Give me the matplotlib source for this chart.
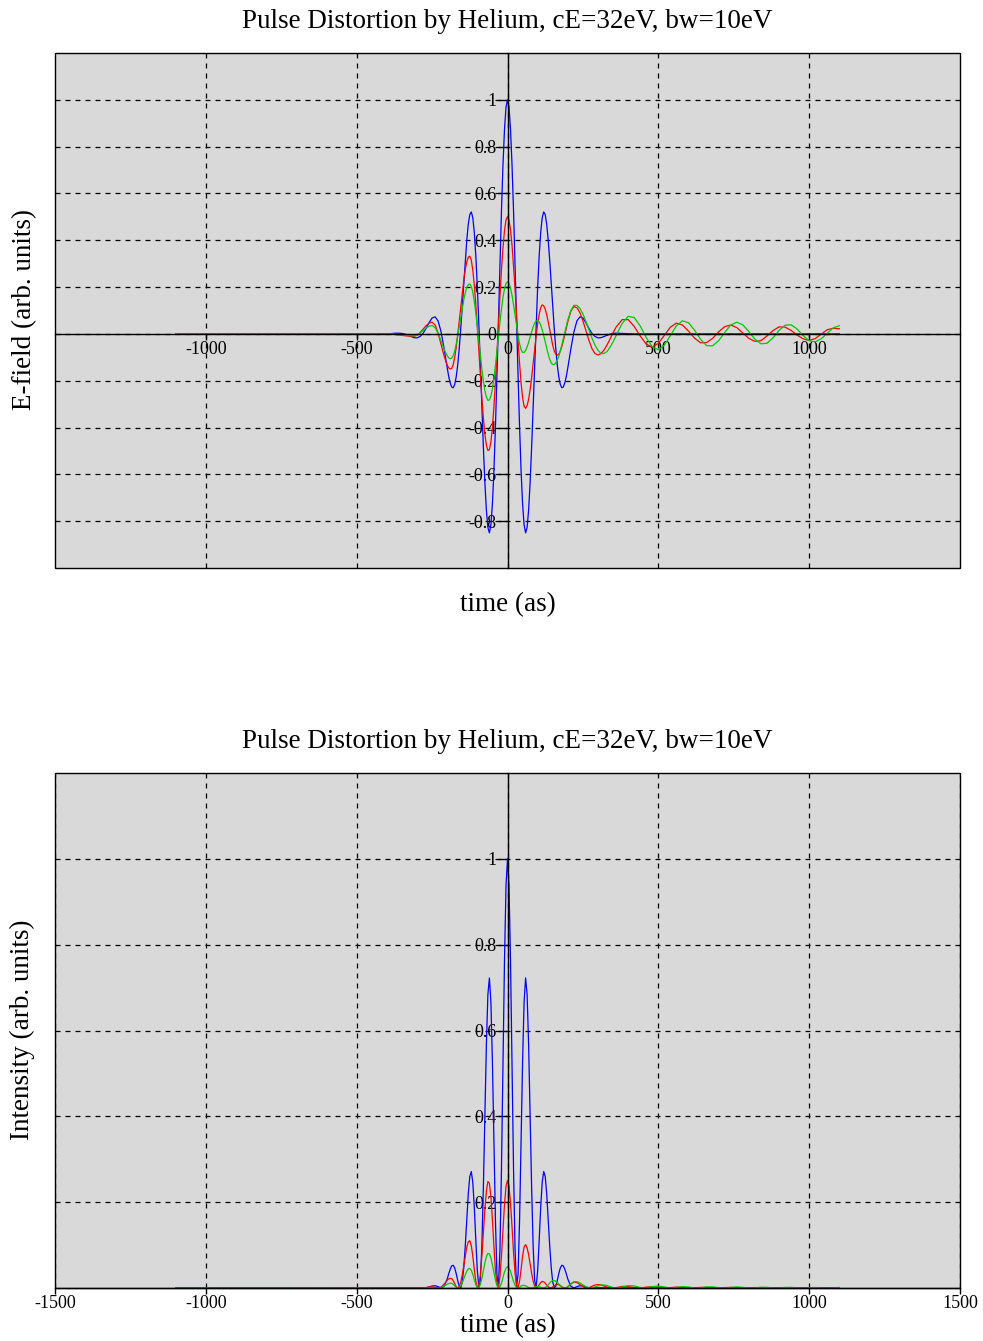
"""
Pulse distortion by helium: E-field and intensity of the pulse.
"""
import matplotlib
matplotlib.use('Agg')
import matplotlib.pyplot as plt
from matplotlib.patches import Rectangle
import numpy as np

plt.rcParams['font.family'] = ['Liberation Serif', 'DejaVu Serif']
plt.rcParams['axes.unicode_minus'] = False

# Sample times (as): flat lead-in, 10 as steps, 5 as round the peak, 10 as, then 20 as tail.
time_as = np.concatenate([[-1100],
                          np.arange(-400, -209, 10),
                          np.arange(-200, 201, 5),
                          np.arange(210, 351, 10),
                          np.arange(360, 1101, 20)])

# Undistorted pulse (blue).
blue_lead = [0.001, 0.001, 0.002, 0.003, 0.003, 0.002, -0.001, -0.006, -0.011, -0.016,
             -0.017, -0.011, 0.002, 0.023, 0.048, 0.068, 0.073, 0.055, 0.008, -0.064]
blue_core = [-0.144, -0.181, -0.209, -0.227, -0.230, -0.216, -0.183, -0.132, -0.062, 0.022,
             0.117, 0.217, 0.313, 0.400, 0.468, 0.510, 0.521, 0.496, 0.433, 0.333,
             0.201, 0.043, -0.132, -0.312, -0.484, -0.635, -0.753, -0.827, -0.850, -0.816,
             -0.726, -0.584, -0.397, -0.178, 0.060, 0.301, 0.527, 0.722, 0.873, 0.968,
             1.000,
             0.968, 0.873, 0.722, 0.527, 0.301, 0.060, -0.178, -0.397, -0.584, -0.726,
             -0.816, -0.850, -0.827, -0.753, -0.635, -0.484, -0.312, -0.132, 0.043, 0.201,
             0.333, 0.433, 0.496, 0.521, 0.510, 0.468, 0.400, 0.313, 0.217, 0.117,
             0.022, -0.062, -0.132, -0.183, -0.216, -0.230, -0.227, -0.209, -0.181, -0.144]
blue_mid = [-0.064, 0.008, 0.055, 0.073, 0.068, 0.048, 0.023, 0.002, -0.011, -0.017,
            -0.016, -0.011, -0.006, -0.001, 0.002]
blue_tail = [0.003, 0.002, 0.001] + [0.0] * 35

# Distorted pulses (red, green).
red_lead = [0.000, 0.000, -0.001, -0.003, -0.004, -0.006, -0.008, -0.009, -0.010, -0.010,
            -0.006, 0.005, 0.020, 0.035, 0.046, 0.050, 0.038, 0.003, -0.046, -0.095]
red_core = [-0.133, -0.145, -0.150, -0.148, -0.132, -0.100, -0.057, -0.004, 0.055, 0.115,
            0.175, 0.229, 0.275, 0.308, 0.328, 0.332, 0.315, 0.272, 0.208, 0.125,
            0.030, -0.073, -0.176, -0.273, -0.358, -0.428, -0.475, -0.498, -0.494, -0.461,
            -0.399, -0.312, -0.205, -0.087, 0.037, 0.160, 0.273, 0.367, 0.441, 0.486,
            0.501,
            0.487, 0.445, 0.378, 0.288, 0.189, 0.081, -0.027, -0.126, -0.209, -0.272,
            -0.309, -0.318, -0.306, -0.279, -0.238, -0.186, -0.127, -0.067, -0.008, 0.044,
            0.084, 0.112, 0.124, 0.120, 0.106, 0.082, 0.051, 0.017, -0.018, -0.049,
            -0.073, -0.087, -0.091, -0.086, -0.073, -0.054, -0.030, -0.003, 0.025, 0.052]
red_mid = [0.097, 0.117, 0.112, 0.091, 0.056, 0.014, -0.028, -0.063, -0.084, -0.090,
           -0.084, -0.069, -0.047, -0.022, 0.005]
red_tail = [0.029, 0.061, 0.061, 0.032, -0.009, -0.044, -0.056, -0.040, -0.006, 0.029,
            0.046, 0.038, 0.012, -0.018, -0.038, -0.037, -0.019, 0.009, 0.031, 0.038,
            0.027, 0.004, -0.019, -0.032, -0.029, -0.009, 0.014, 0.030, 0.029, 0.015,
            -0.005, -0.021, -0.028, -0.020, -0.001, 0.018, 0.024, 0.022]

green_lead = [0.000, 0.000, -0.001, -0.002, -0.003, -0.005, -0.006, -0.007, -0.008, -0.008,
              -0.005, 0.003, 0.014, 0.025, 0.033, 0.036, 0.027, 0.003, -0.031, -0.066]
green_core = [-0.093, -0.102, -0.106, -0.104, -0.093, -0.073, -0.044, -0.009, 0.030, 0.070,
              0.109, 0.146, 0.175, 0.198, 0.211, 0.213, 0.203, 0.178, 0.139, 0.089,
              0.032, -0.029, -0.091, -0.149, -0.200, -0.242, -0.270, -0.284, -0.282, -0.265,
              -0.234, -0.190, -0.135, -0.075, -0.012, 0.050, 0.107, 0.155, 0.193, 0.215,
              0.223,
              0.216, 0.196, 0.165, 0.125, 0.081, 0.035, -0.007, -0.042, -0.067, -0.079,
              -0.079, -0.071, -0.056, -0.036, -0.013, 0.009, 0.030, 0.046, 0.055, 0.058,
              0.052, 0.038, 0.018, -0.007, -0.034, -0.062, -0.087, -0.109, -0.124, -0.131,
              -0.131, -0.124, -0.112, -0.095, -0.073, -0.048, -0.021, 0.007, 0.034, 0.060]
green_mid = [0.100, 0.122, 0.122, 0.109, 0.085, 0.053, 0.018, -0.018, -0.048, -0.070,
             -0.084, -0.084, -0.075, -0.057, -0.034]
green_tail = [-0.007, 0.045, 0.075, 0.070, 0.034, -0.016, -0.055, -0.068, -0.048, -0.007,
              0.035, 0.056, 0.048, 0.016, -0.023, -0.050, -0.051, -0.029, 0.006, 0.038,
              0.050, 0.039, 0.010, -0.022, -0.042, -0.040, -0.017, 0.015, 0.037, 0.039,
              0.021, -0.007, -0.029, -0.034, -0.021, 0.003, 0.026, 0.035]

blue_field = [0.0] + blue_lead + blue_core + blue_mid + blue_tail
red_field = [0.0] + red_lead + red_core + red_mid + red_tail
green_field = [0.0] + green_lead + green_core + green_mid + green_tail

fields = [blue_field, red_field, green_field]
colors = ['#0000ff', '#ff0000', '#00c800']

title = 'Pulse Distortion by Helium, cE=32eV, bw=10eV'
top_xticks = [-1000, -500, 0, 500, 1000]
top_yticks = [-0.8, -0.6, -0.4, -0.2, 0, 0.2, 0.4, 0.6, 0.8, 1]
bottom_xticks = [-1500, -1000, -500, 0, 500, 1000, 1500]
bottom_yticks = [0.2, 0.4, 0.6, 0.8, 1]

W, H = 983, 1341


def style_axes(ax, xticks, yticks, ylim):
    ax.set_facecolor('#d9d9d9')
    ax.set_xlim(-1500, 1500)
    ax.set_ylim(*ylim)
    ax.spines['top'].set_visible(False)
    ax.spines['right'].set_visible(False)
    ax.spines['left'].set_position(('data', 0))
    ax.spines['bottom'].set_position(('data', 0))
    for s in ['left', 'bottom']:
        ax.spines[s].set_linewidth(1.0)
        ax.spines[s].set_zorder(4)
    ax.add_patch(Rectangle((0, 0), 1, 1, transform=ax.transAxes, fill=False,
                           ec='black', lw=1.0, zorder=5, clip_on=False))
    ax.set_xticks(xticks)
    ax.set_xticklabels(['%g' % v for v in xticks])
    ax.set_yticks(yticks)
    ax.set_yticklabels(['%g' % round(v, 1) for v in yticks])
    ax.tick_params(axis='both', labelsize=13, direction='out', length=4, width=1, pad=1)
    ax.tick_params(axis='y', length=7)
    ax.grid(True, color='black', linestyle=(0, (4, 4)), linewidth=0.9)
    ax.set_axisbelow(True)


fig = plt.figure(figsize=(W / 100, H / 100), dpi=100)
ax1 = fig.add_axes([55 / W, 1 - 568 / H, 905 / W, 515 / H])
ax2 = fig.add_axes([55 / W, 1 - 1288 / H, 905 / W, 515 / H])

style_axes(ax1, top_xticks, top_yticks, (-1.0, 1.2))
style_axes(ax2, bottom_xticks, bottom_yticks, (0.0, 1.2))

for field, c in zip(fields, colors):
    e = np.array(field)
    ax1.plot(time_as, e, color=c, lw=0.9, zorder=3)
    # intensity is the squared field
    ax2.plot(time_as, e ** 2, color=c, lw=0.9, zorder=3)

cx = 507.5 / W
fig.text(cx, 1 - 21 / H, title, ha='center', va='center', fontsize=19.5)
fig.text(cx, 1 - 742 / H, title, ha='center', va='center', fontsize=19.5)
fig.text(cx, 1 - 605 / H, 'time (as)', ha='center', va='center', fontsize=19.5)
fig.text(cx, 1 - 1326 / H, 'time (as)', ha='center', va='center', fontsize=19.5)
fig.text(25 / W, 1 - 310 / H, 'E-field (arb. units)', ha='center', va='center',
         rotation=90, fontsize=19.5)
fig.text(22 / W, 1 - 1030 / H, 'Intensity (arb. units)', ha='center', va='center',
         rotation=90, fontsize=19.5)

fig.savefig('out.png', dpi=100)
